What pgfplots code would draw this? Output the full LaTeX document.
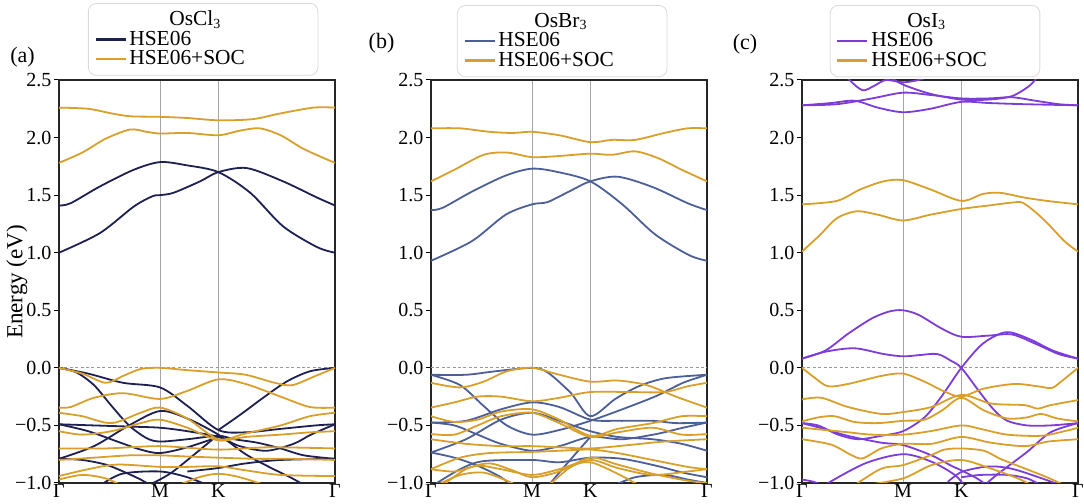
\documentclass[border=0pt]{standalone}
\usepackage{fontspec}
\setmainfont{Liberation Serif}
\usepackage{pgfplots}
\pgfplotsset{compat=1.18}
\definecolor{cA}{HTML}{1D2050}
\definecolor{cB}{HTML}{4C5F97}
\definecolor{cC}{HTML}{7D3CD8}
\definecolor{gd}{HTML}{D8A02A}
\pgfplotsset{
  bandaxis/.style={
    width=138pt, height=201.5pt, scale only axis,
    xmin=0, xmax=2.366, ymin=-1, ymax=2.5,
    xtick={0,0.866,1.366,2.366}, xticklabels={Γ,M,K,Γ},
    ytick={-1,-0.5,0,0.5,1,1.5,2,2.5},
    yticklabels={−1.0,−0.5,0.0,0.5,1.0,1.5,2.0,2.5},
    xmajorgrids, major grid style={gray!70, line width=0.5pt},
    tick align=outside, major tick length=2.5pt,
    xtick style={draw=none}, ytick pos=left,
    ytick style={black, line width=0.5pt},
    axis line style={black!85, line width=0.6pt},
    tick label style={font=\fontsize{10}{10}\selectfont},
    xticklabel style={inner sep=0pt, yshift=2pt},
    yticklabel style={xshift=2.2pt},
    legend cell align=left,
    legend image code/.code={\draw[#1] (0pt,0pt) -- (15pt,0pt);},
    legend style={anchor=north west, draw=black!15, rounded corners=4pt,
      font=\fontsize{10.7}{11.5}\selectfont, row sep=-1.5pt,
      inner xsep=3pt, inner ysep=2.5pt, nodes={inner sep=1.3pt}},
  },
  bA/.style={color=cA, line width=0.9pt, smooth, tension=0.5, forget plot},
  bB/.style={color=cB, line width=0.9pt, smooth, tension=0.5, forget plot},
  bC/.style={color=cC, line width=0.9pt, smooth, tension=0.5, forget plot},
  bG/.style={color=gd, line width=0.9pt, smooth, tension=0.5, forget plot},
  zl/.style={gray!80, dashed, line width=0.4pt, dash pattern=on 1.5pt off 1.2pt, forget plot},
}
\begin{document}
\begin{tikzpicture}
\useasboundingbox (0,0) rectangle (542pt,252pt);
% ---------------- (a) OsCl3 ----------------
\begin{axis}[bandaxis, at={(29.5pt,10.5pt)}, anchor=south west,
  legend style={at={(axis description cs:0.105,1.191)}}]
\addlegendimage{empty legend}
\addlegendentry{\makebox[90pt][l]{\hspace*{20pt}OsCl\raisebox{-0.25ex}{\scriptsize 3}}}
\addlegendimage{color=cA, line width=1.2pt}
\addlegendentry{HSE06}
\addlegendimage{color=gd, line width=1.2pt}
\addlegendentry{HSE06+SOC}
\addplot[zl] coordinates {(0,0)(2.366,0)};
% HSE06 conduction
\addplot[bA] coordinates {(0,1.00)(0.35,1.17)(0.64,1.40)(0.80,1.49)(0.866,1.50)(0.98,1.52)(1.21,1.62)(1.366,1.70)(1.61,1.735)(1.92,1.62)(2.21,1.48)(2.366,1.41)};
\addplot[bA] coordinates {(0,1.41)(0.1,1.43)(0.35,1.575)(0.64,1.72)(0.866,1.787)(1.09,1.76)(1.366,1.70)(1.64,1.52)(1.92,1.23)(2.21,1.05)(2.366,1.00)};
% HSE06 valence
\addplot[bA] coordinates {(0,0)(0.25,-0.05)(0.55,-0.13)(0.866,-0.17)(1.1,-0.33)(1.366,-0.54)(1.6,-0.56)(1.9,-0.53)(2.2,-0.50)(2.366,-0.49)};
\addplot[bA] coordinates {(0,0)(0.15,-0.04)(0.3,-0.15)(0.45,-0.33)(0.6,-0.50)(0.75,-0.61)(0.866,-0.64)(1.1,-0.62)(1.366,-0.59)(1.5,-0.62)(1.7,-0.65)(1.9,-0.70)(2.1,-0.76)(2.366,-0.79)};
\addplot[bA] coordinates {(1.366,-0.54)(1.55,-0.41)(1.75,-0.26)(1.95,-0.12)(2.15,-0.03)(2.366,0)};
\addplot[bA] coordinates {(0,-0.49)(0.3,-0.50)(0.6,-0.51)(0.866,-0.52)(1.1,-0.55)(1.366,-0.60)(1.55,-0.68)(1.78,-0.72)(2.01,-0.66)(2.16,-0.58)(2.366,-0.49)};
\addplot[bA] coordinates {(0,-0.79)(0.3,-0.68)(0.6,-0.50)(0.866,-0.375)(1.1,-0.44)(1.366,-0.58)(1.6,-0.75)(1.8,-0.86)(2.0,-0.96)(2.12,-1.03)};
\addplot[bA] coordinates {(0,-0.49)(0.25,-0.55)(0.5,-0.64)(0.7,-0.71)(0.866,-0.74)(1.1,-0.69)(1.366,-0.60)};
\addplot[bA] coordinates {(0,-0.79)(0.2,-0.80)(0.4,-0.84)(0.55,-0.90)(0.7,-0.97)(0.8,-1.03)};
\addplot[bA] coordinates {(0.75,-1.03)(0.95,-0.92)(1.15,-0.76)(1.366,-0.58)};
\addplot[bA] coordinates {(0.34,-1.03)(0.54,-0.92)(0.866,-0.90)(1.1,-0.95)(1.3,-1.03)};
\addplot[bA] coordinates {(1.1,-0.90)(1.366,-0.87)(1.6,-0.83)(1.9,-0.80)(2.366,-0.79)};
% SOC conduction
\addplot[bG] coordinates {(0,2.26)(0.25,2.25)(0.45,2.21)(0.61,2.185)(0.866,2.18)(1.1,2.17)(1.366,2.15)(1.66,2.16)(1.9,2.21)(2.18,2.26)(2.366,2.26)};
\addplot[bG] coordinates {(0,1.78)(0.2,1.87)(0.4,1.99)(0.61,2.07)(0.75,2.05)(0.866,2.035)(1.1,2.04)(1.366,2.02)(1.55,2.06)(1.72,2.08)(1.9,2.02)(2.1,1.90)(2.366,1.78)};
% SOC valence
\addplot[bG] coordinates {(0,0)(0.2,-0.05)(0.4,-0.13)(0.55,-0.07)(0.7,-0.01)(0.866,0)(1.1,-0.02)(1.366,-0.04)(1.6,-0.06)(1.85,-0.13)(2.0,-0.15)(2.2,-0.07)(2.366,0)};
\addplot[bG] coordinates {(0,-0.345)(0.1,-0.34)(0.3,-0.26)(0.55,-0.22)(0.866,-0.27)(1.1,-0.2)(1.366,-0.10)(1.6,-0.14)(1.9,-0.25)(2.15,-0.34)(2.366,-0.345)};
\addplot[bG] coordinates {(0,-0.39)(0.2,-0.42)(0.45,-0.48)(0.7,-0.39)(0.866,-0.345)(1.1,-0.44)(1.366,-0.62)(1.6,-0.57)(1.9,-0.50)(2.15,-0.42)(2.366,-0.39)};
\addplot[bG] coordinates {(0,-0.55)(0.2,-0.58)(0.45,-0.55)(0.7,-0.48)(0.866,-0.45)(1.1,-0.52)(1.366,-0.63)(1.6,-0.60)(1.9,-0.58)(2.15,-0.56)(2.366,-0.55)};
\addplot[bG] coordinates {(0,-0.70)(0.4,-0.70)(0.866,-0.68)(1.366,-0.71)(1.8,-0.69)(2.366,-0.70)};
\addplot[bG] coordinates {(0,-0.80)(0.3,-0.78)(0.6,-0.76)(0.866,-0.76)(1.1,-0.77)(1.366,-0.78)(1.7,-0.79)(2.0,-0.79)(2.366,-0.80)};
\addplot[bG] coordinates {(0,-0.94)(0.25,-0.88)(0.5,-0.84)(0.866,-0.86)(1.1,-0.86)(1.366,-0.855)(1.6,-0.89)(1.9,-0.93)(2.366,-0.94)};
\addplot[bG] coordinates {(0,-0.97)(0.2,-0.93)(0.4,-0.96)(0.55,-1.03)};
\addplot[bG] coordinates {(1.0,-1.03)(1.2,-0.95)(1.366,-0.92)(1.55,-0.95)(1.8,-1.03)};
\end{axis}
% ---------------- (b) OsBr3 ----------------
\begin{axis}[bandaxis, at={(215.5pt,10.5pt)}, anchor=south west,
  legend style={at={(axis description cs:0.094,1.186)}}]
\addlegendimage{empty legend}
\addlegendentry{\makebox[80pt][l]{\hspace*{18pt}OsBr\raisebox{-0.25ex}{\scriptsize 3}}}
\addlegendimage{color=cB, line width=1.2pt}
\addlegendentry{HSE06}
\addlegendimage{color=gd, line width=1.2pt}
\addlegendentry{HSE06+SOC}
\addplot[zl] coordinates {(0,0)(2.366,0)};
\addplot[bB] coordinates {(0,0.93)(0.35,1.10)(0.64,1.33)(0.866,1.42)(1.0,1.44)(1.2,1.54)(1.366,1.62)(1.6,1.66)(1.9,1.57)(2.2,1.43)(2.366,1.37)};
\addplot[bB] coordinates {(0,1.37)(0.1,1.39)(0.35,1.53)(0.64,1.67)(0.866,1.73)(1.09,1.70)(1.366,1.62)(1.64,1.42)(1.92,1.16)(2.21,0.98)(2.366,0.93)};
\addplot[bB] coordinates {(0,-0.06)(0.3,-0.06)(0.55,-0.03)(0.866,0)(1.0,-0.04)(1.2,-0.22)(1.366,-0.42)(1.58,-0.27)(1.78,-0.16)(2.01,-0.09)(2.366,-0.06)};
\addplot[bB] coordinates {(0,-0.06)(0.25,-0.15)(0.45,-0.33)(0.65,-0.50)(0.866,-0.58)(1.1,-0.54)(1.366,-0.46)(1.64,-0.36)(1.93,-0.245)(2.16,-0.13)(2.366,-0.06)};
\addplot[bB] coordinates {(0,-0.475)(0.3,-0.46)(0.6,-0.36)(0.866,-0.30)(1.1,-0.34)(1.366,-0.45)(1.6,-0.46)(1.9,-0.46)(2.1,-0.48)(2.366,-0.475)};
\addplot[bB] coordinates {(0,-0.735)(0.3,-0.62)(0.6,-0.45)(0.866,-0.39)(1.1,-0.46)(1.366,-0.55)(1.6,-0.60)(1.9,-0.62)(2.15,-0.66)(2.366,-0.72)};
\addplot[bB] coordinates {(0,-0.475)(0.2,-0.50)(0.4,-0.58)(0.6,-0.66)(0.866,-0.72)(1.1,-0.68)(1.366,-0.60)(1.64,-0.62)(1.93,-0.575)(2.16,-0.52)(2.366,-0.475)};
\addplot[bB] coordinates {(0,-0.735)(0.2,-0.78)(0.4,-0.85)(0.6,-0.95)(0.7,-1.03)};
\addplot[bB] coordinates {(0.02,-1.02)(0.25,-0.88)(0.45,-0.81)(0.866,-0.80)(1.1,-0.82)(1.366,-0.78)(1.64,-0.79)(1.93,-0.85)(2.16,-0.91)(2.366,-0.95)};
\addplot[bB] coordinates {(1.0,-1.03)(1.15,-0.85)(1.366,-0.60)};
\addplot[bB] coordinates {(1.55,-1.03)(1.75,-0.95)(2.0,-0.93)(2.2,-0.97)(2.366,-1.0)};
\addplot[bG] coordinates {(0,2.08)(0.25,2.08)(0.5,2.05)(0.7,2.04)(0.866,2.05)(1.1,2.02)(1.366,1.96)(1.55,1.98)(1.75,1.98)(2.0,2.04)(2.2,2.08)(2.366,2.08)};
\addplot[bG] coordinates {(0,1.62)(0.2,1.72)(0.45,1.85)(0.65,1.87)(0.866,1.83)(1.1,1.84)(1.366,1.86)(1.55,1.85)(1.75,1.88)(1.95,1.82)(2.15,1.72)(2.366,1.62)};
\addplot[bG] coordinates {(0,-0.13)(0.25,-0.17)(0.45,-0.12)(0.65,-0.03)(0.866,0)(1.1,-0.06)(1.366,-0.12)(1.6,-0.11)(1.85,-0.15)(2.1,-0.25)(2.366,-0.345)};
\addplot[bG] coordinates {(0,-0.345)(0.2,-0.30)(0.4,-0.25)(0.6,-0.25)(0.866,-0.29)(1.1,-0.26)(1.366,-0.21)(1.7,-0.21)(2.0,-0.21)(2.2,-0.16)(2.366,-0.13)};
\addplot[bG] coordinates {(0,-0.42)(0.2,-0.47)(0.4,-0.45)(0.6,-0.38)(0.866,-0.36)(1.1,-0.45)(1.366,-0.59)(1.6,-0.53)(1.9,-0.48)(2.15,-0.42)(2.366,-0.42)};
\addplot[bG] coordinates {(0,-0.575)(0.2,-0.58)(0.4,-0.50)(0.6,-0.42)(0.866,-0.39)(1.1,-0.48)(1.366,-0.60)(1.6,-0.56)(1.9,-0.52)(2.15,-0.58)(2.366,-0.575)};
\addplot[bG] coordinates {(0,-0.62)(0.3,-0.66)(0.6,-0.68)(0.866,-0.68)(1.1,-0.69)(1.366,-0.70)(1.7,-0.67)(2.0,-0.64)(2.366,-0.62)};
\addplot[bG] coordinates {(0,-0.88)(0.25,-0.78)(0.5,-0.74)(0.866,-0.73)(1.1,-0.72)(1.366,-0.71)(1.6,-0.74)(1.9,-0.80)(2.2,-0.86)(2.366,-0.88)};
\addplot[bG] coordinates {(0,-0.88)(0.2,-0.90)(0.4,-0.85)(0.6,-0.88)(0.866,-0.93)(1.1,-0.88)(1.366,-0.80)(1.6,-0.87)(1.9,-0.93)(2.2,-0.90)(2.366,-0.88)};
\addplot[bG] coordinates {(0.1,-1.02)(0.3,-0.88)(0.5,-0.83)(0.7,-0.89)(0.866,-0.95)(1.1,-0.90)(1.366,-0.78)(1.6,-0.84)(1.9,-0.92)(2.2,-0.98)(2.366,-1.0)};
\addplot[bG] coordinates {(1.0,-1.03)(1.2,-0.86)(1.366,-0.82)(1.6,-0.92)(1.8,-1.03)};
\addplot[bG] coordinates {(0.05,-1.02)(0.25,-0.93)(0.45,-0.91)(0.65,-0.98)(0.75,-1.03)};
\end{axis}
% ---------------- (c) OsI3 ----------------
\begin{axis}[bandaxis, at={(401pt,10.5pt)}, anchor=south west,
  legend style={at={(axis description cs:0.101,1.186)}}]
\addlegendimage{empty legend}
\addlegendentry{\makebox[80pt][l]{\hspace*{18pt}OsI\raisebox{-0.25ex}{\scriptsize 3}}}
\addlegendimage{color=cC, line width=1.2pt}
\addlegendentry{HSE06}
\addlegendimage{color=gd, line width=1.2pt}
\addlegendentry{HSE06+SOC}
\addplot[zl] coordinates {(0,0)(2.366,0)};
% HSE06 upper
\addplot[bC] coordinates {(0,2.28)(0.3,2.29)(0.6,2.34)(0.866,2.39)(1.1,2.37)(1.366,2.34)(1.6,2.34)(1.8,2.35)(2.0,2.32)(2.2,2.29)(2.366,2.28)};
\addplot[bC] coordinates {(0,2.28)(0.25,2.30)(0.45,2.32)(0.65,2.26)(0.866,2.22)(1.1,2.25)(1.366,2.31)(1.6,2.30)(1.9,2.29)(2.366,2.28)};
\addplot[bC] coordinates {(0.38,2.53)(0.46,2.45)(0.53,2.41)(0.62,2.45)(0.72,2.50)(0.866,2.48)(1.0,2.50)(1.08,2.53)};
\addplot[bC] coordinates {(0.75,2.53)(0.866,2.46)(1.1,2.38)(1.366,2.33)(1.6,2.33)(1.8,2.36)(1.95,2.45)(2.02,2.53)};
% HSE06 near gap
\addplot[bC] coordinates {(0,0.08)(0.2,0.15)(0.4,0.30)(0.6,0.43)(0.75,0.49)(0.866,0.50)(1.0,0.46)(1.2,0.34)(1.366,0.27)(1.6,0.28)(1.8,0.29)(2.0,0.21)(2.2,0.12)(2.366,0.08)};
\addplot[bC] coordinates {(0,0.08)(0.2,0.14)(0.45,0.17)(0.7,0.12)(0.866,0.10)(1.0,0.11)(1.16,0.12)(1.28,0.06)(1.366,0)(1.53,-0.22)(1.65,-0.37)(1.76,-0.46)(1.93,-0.50)(2.13,-0.50)(2.366,-0.48)};
\addplot[bC] coordinates {(0,-0.48)(0.137,-0.50)(0.31,-0.58)(0.48,-0.62)(0.68,-0.59)(0.866,-0.55)(1.05,-0.43)(1.195,-0.25)(1.366,0)(1.55,0.21)(1.75,0.31)(1.95,0.25)(2.15,0.15)(2.366,0.08)};
\addplot[bC] coordinates {(0,-0.48)(0.19,-0.53)(0.39,-0.59)(0.68,-0.65)(0.866,-0.67)(1.11,-0.76)(1.28,-0.85)(1.366,-0.89)(1.5,-0.96)(1.6,-1.03)};
\addplot[bC] coordinates {(1.55,-1.03)(1.70,-0.905)(1.93,-0.73)(2.13,-0.56)(2.366,-0.48)};
\addplot[bC] coordinates {(0.19,-1.02)(0.54,-0.83)(0.866,-0.75)(1.11,-0.815)(1.31,-0.93)(1.39,-1.02)};
\addplot[bC] coordinates {(1.25,-0.99)(1.366,-0.905)(1.56,-0.86)(1.70,-0.86)(1.85,-0.89)(2.14,-0.99)(2.2,-1.02)};
\addplot[bC] coordinates {(1.366,-0.95)(1.53,-0.93)(1.76,-0.93)(1.93,-0.96)(2.05,-1.02)};
\addplot[bC] coordinates {(0,-0.97)(0.1,-0.99)(0.2,-1.03)};
% SOC conduction
\addplot[bG] coordinates {(0,1.42)(0.3,1.45)(0.5,1.55)(0.7,1.62)(0.866,1.63)(1.1,1.55)(1.366,1.45)(1.55,1.51)(1.7,1.52)(1.9,1.48)(2.1,1.45)(2.366,1.42)};
\addplot[bG] coordinates {(0,1.01)(0.15,1.15)(0.3,1.30)(0.47,1.36)(0.65,1.33)(0.866,1.28)(1.1,1.33)(1.366,1.38)(1.6,1.41)(1.8,1.435)(1.9,1.43)(2.07,1.29)(2.25,1.10)(2.366,1.01)};
% SOC valence
\addplot[bG] coordinates {(0,0)(0.109,-0.086)(0.223,-0.16)(0.394,-0.14)(0.68,-0.07)(0.866,-0.05)(1.05,-0.12)(1.22,-0.205)(1.366,-0.25)(1.56,-0.18)(1.82,-0.14)(2.02,-0.16)(2.14,-0.175)(2.22,-0.12)(2.366,0)};
\addplot[bG] coordinates {(0,-0.274)(0.166,-0.26)(0.394,-0.34)(0.68,-0.40)(0.866,-0.384)(1.11,-0.34)(1.366,-0.235)(1.62,-0.31)(1.91,-0.324)(2.02,-0.354)(2.13,-0.324)(2.366,-0.28)};
\addplot[bG] coordinates {(0,-0.465)(0.14,-0.43)(0.28,-0.42)(0.45,-0.47)(0.65,-0.48)(0.866,-0.46)(1.05,-0.45)(1.2,-0.37)(1.366,-0.26)(1.56,-0.37)(1.76,-0.44)(1.93,-0.43)(2.05,-0.40)(2.19,-0.44)(2.366,-0.465)};
\addplot[bG] coordinates {(0,-0.52)(0.2,-0.54)(0.4,-0.56)(0.6,-0.58)(0.866,-0.58)(1.1,-0.55)(1.366,-0.50)(1.53,-0.53)(1.76,-0.58)(2.05,-0.59)(2.25,-0.55)(2.366,-0.52)};
\addplot[bG] coordinates {(0,-0.62)(0.25,-0.667)(0.42,-0.756)(0.52,-0.786)(0.68,-0.70)(0.866,-0.66)(1.11,-0.66)(1.366,-0.60)(1.62,-0.65)(1.91,-0.68)(2.11,-0.64)(2.366,-0.62)};
\addplot[bG] coordinates {(0.45,-1.02)(0.68,-0.875)(0.866,-0.845)(1.11,-0.756)(1.22,-0.71)(1.366,-0.70)(1.56,-0.72)(1.70,-0.79)(1.9,-0.87)(2.1,-0.95)(2.25,-1.02)};
\addplot[bG] coordinates {(0.54,-1.02)(0.866,-0.96)(1.11,-0.845)(1.366,-0.80)(1.62,-0.875)(1.85,-0.96)(1.97,-1.02)};
\end{axis}
\node[font=\fontsize{11}{12}\selectfont] at (11.25pt,223.5pt) {(a)};
\node[font=\fontsize{11}{12}\selectfont] at (190.75pt,230.5pt) {(b)};
\node[font=\fontsize{11}{12}\selectfont] at (372.5pt,229.75pt) {(c)};
\node[rotate=90, font=\fontsize{11.5}{12}\selectfont] at (8.5pt,111pt) {Energy (eV)};
\end{tikzpicture}
\end{document}
